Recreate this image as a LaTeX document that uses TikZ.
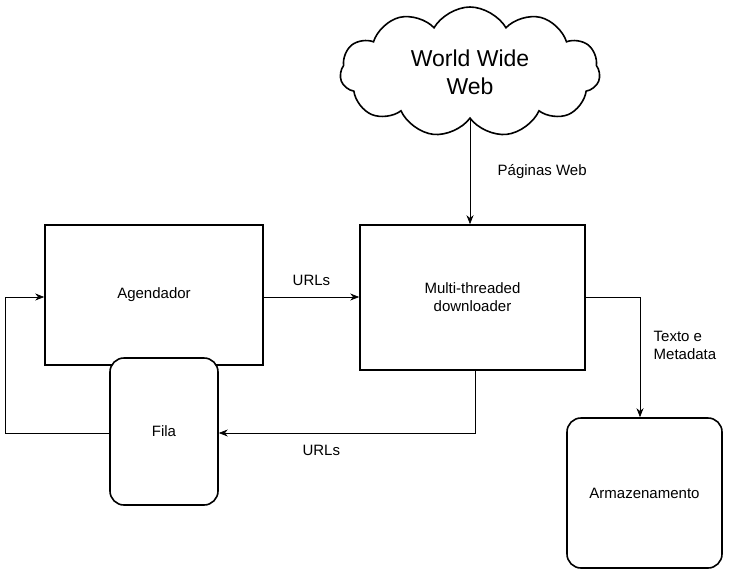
\documentclass[tikz,border=0pt]{standalone}
\usepackage{fontspec}
\setmainfont{Liberation Sans}
\usetikzlibrary{shapes.symbols,arrows.meta}
\begin{document}
\begin{tikzpicture}[x=1pt,y=-1pt,
  box/.style={draw,line width=1.6pt,fill=white,inner sep=0pt},
  rbox/.style={box,rounded corners=14pt},
  lbl/.style={font=\fontsize{15}{18}\selectfont,align=center},
  conn/.style={line width=0.7pt,-{Stealth[length=9pt,width=7pt]}}]
\useasboundingbox (0,0) rectangle (750,573);
\node[cloud,draw,line width=1.6pt,cloud puffs=11,cloud puff arc=120,aspect=2.1,minimum width=260pt,minimum height=130pt,align=center,font=\fontsize{23}{28}\selectfont] (www) at (470,72) {World Wide\\Web};
\node[box,minimum width=218pt,minimum height=140pt,lbl] (ag) at (154,295) {Agendador};
\node[box,minimum width=225pt,minimum height=145pt,lbl] (dl) at (472.5,297.5) {Multi-threaded\\downloader};
\node[rbox,minimum width=108pt,minimum height=147pt,lbl] (fila) at (164,431.5) {Fila};
\node[rbox,minimum width=155pt,minimum height=150pt,lbl] (arm) at (644.5,493) {Armazenamento};
\coordinate (c1) at (5,433);
\coordinate (c2) at (5,297);
\coordinate (d1) at (475,433);
\coordinate (e1) at (640,297);
\draw[conn] (www.south) -- (www.south |- dl.north) node[midway,right=24pt,lbl]{Páginas Web};
\draw[conn] (ag.east |- 0,297) -- (dl.west |- 0,297) node[midway,above=8pt,lbl]{URLs};
\draw[conn] (d1 |- dl.south) -- (d1) -- (fila.east |- d1) node[pos=0.6,below=8pt,lbl]{URLs};
\draw[conn] (fila.west |- c1) -- (c1) -- (c2) -- (ag.west |- c2);
\draw[conn] (dl.east |- e1) -- (e1) -- (e1 |- arm.north) node[pos=0.4,right=10pt,lbl,align=left]{Texto e\\Metadata};
\end{tikzpicture}
\end{document}
